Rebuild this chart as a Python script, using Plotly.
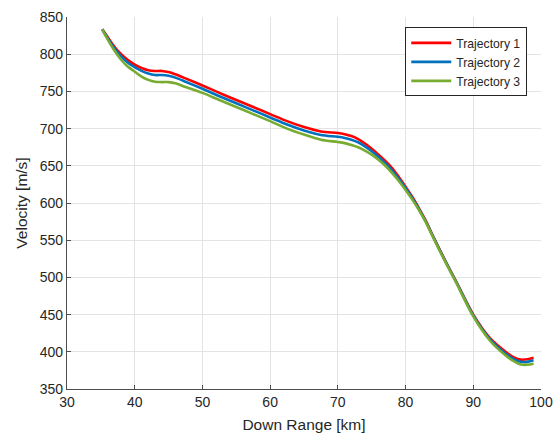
import plotly.graph_objects as go

x_km = [35.2, 36, 37, 38, 39, 40, 41, 42, 43, 44, 45, 46, 47.5, 50, 52.5, 55, 57.5, 60,
        62.5, 65, 67.5, 70, 71, 72, 73, 74, 75, 76, 77, 78, 79, 80, 81, 82, 83, 84, 85, 86,
        87.5, 90, 92.5, 95, 96, 97, 98, 98.9]

traj1 = [833.5, 823, 810, 800, 792, 786, 781.5, 778.5, 777.5, 777.5, 776, 773, 767.5, 758,
         748, 738.5, 729, 719.5, 710, 702, 696, 694, 692.5, 690, 686, 680, 673, 665, 656.5,
         647, 635, 622, 608, 592.5, 576, 556.5, 538, 520, 494, 450, 418, 398.5, 392.5, 389.5,
         390, 392]
traj2 = [833.5, 821.5, 808, 797, 788.5, 782.5, 777.5, 774, 772, 772, 771, 768.5, 763, 753.5,
         743.5, 734, 724.5, 715, 705.5, 697.5, 691.5, 689, 687.5, 685, 681.5, 676, 669.5, 662,
         653.5, 644, 632.5, 620, 606.5, 591.5, 575, 556, 537.5, 519.5, 493.5, 449, 416.5, 396,
         390, 386.5, 386.5, 388.5]
traj3 = [833.5, 820, 805, 792.5, 783, 776.5, 770, 765.5, 763, 762.5, 762.5, 761, 756, 748,
         738.5, 729, 719.5, 710, 700, 692, 685, 682, 680.5, 678, 675, 670.5, 665, 658, 650,
         640.5, 629.5, 617.5, 604.5, 590, 574, 555, 536.5, 518.5, 492.5, 447.5, 414.5, 393.5,
         387.5, 383, 382.5, 384]

names = ["Trajectory 1", "Trajectory 2", "Trajectory 3"]
colors = ["#FF0000", "#0072BD", "#77AC30"]
x_ticks = [30, 40, 50, 60, 70, 80, 90, 100]
y_ticks = [350, 400, 450, 500, 550, 600, 650, 700, 750, 800, 850]

fig = go.Figure()
for name, ys, c in zip(names, [traj1, traj2, traj3], colors):
    fig.add_trace(go.Scatter(x=x_km, y=ys, mode="lines", name=name,
                             line=dict(color=c, width=2.6, shape="spline", smoothing=0.9)))

axcol = "#4d4d4d"
fig.update_layout(
    width=557, height=438,
    margin=dict(l=67, r=15.5, t=16.5, b=48.5),
    paper_bgcolor="white", plot_bgcolor="white",
    font=dict(family="Liberation Sans, Arial, sans-serif", size=14, color="#262626"),
    showlegend=True,
    legend=dict(x=0.971, xanchor="right", y=0.972, yanchor="top",
                bgcolor="white", bordercolor="#262626", borderwidth=1,
                font=dict(size=12.2, color="#262626"), traceorder="normal",
                itemwidth=40),
    xaxis=dict(range=[30, 100], tickvals=x_ticks, showgrid=True, gridcolor="#e3e3e3",
               gridwidth=1, showline=True, linecolor=axcol, linewidth=1.2,
               ticks="inside", ticklen=4, tickcolor=axcol, zeroline=False,
               automargin=False,
               title=dict(text="Down Range [km]", standoff=10, font=dict(size=15.5)),
               tickfont=dict(size=14)),
    yaxis=dict(range=[350, 850], tickvals=y_ticks, showgrid=True, gridcolor="#e3e3e3",
               gridwidth=1, showline=True, linecolor=axcol, linewidth=1.2,
               ticks="inside", ticklen=4, tickcolor=axcol, zeroline=False,
               automargin=False,
               title=dict(text="Velocity [m/s]", standoff=8, font=dict(size=15.5)),
               tickfont=dict(size=14)),
)
fig.write_html("out.html", config={"displayModeBar": False},
               post_script="document.body.style.margin='0';")
